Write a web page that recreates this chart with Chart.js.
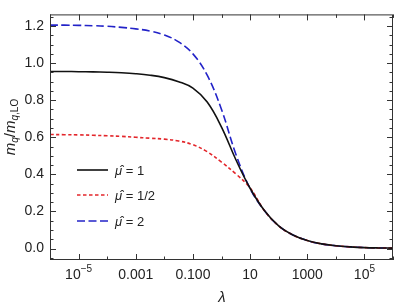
<!DOCTYPE html>
<html>
<head>
<meta charset="utf-8">
<script src="https://cdn.jsdelivr.net/npm/chart.js@4.4.1/dist/chart.umd.min.js"></script>
<style>
  html, body { margin: 0; padding: 0; background: #fff; }
  #wrap { width: 395px; height: 306px; }
</style>
</head>
<body>
<div id="wrap"><canvas id="myChart" width="395" height="306"></canvas></div>
<script>
// lambda values, half decades from 1e-6 to 1e6
const lambda = [1e-6, 3.16e-6, 1e-5, 3.16e-5, 1e-4, 3.16e-4, 1e-3, 3.16e-3, 1e-2, 3.16e-2, 0.1, 0.316,
  1, 3.16, 10, 31.6, 100, 316, 1000, 3160, 1e4, 3.16e4, 1e5, 3.16e5, 1e6];

const muOne = [0.955, 0.955, 0.954, 0.953, 0.951, 0.948, 0.943, 0.935, 0.922, 0.900, 0.865, 0.79,
  0.655, 0.48, 0.325, 0.205, 0.122, 0.073, 0.043, 0.025, 0.015, 0.009, 0.005, 0.003, 0.002];
const muHalf = [0.615, 0.614, 0.613, 0.611, 0.608, 0.605, 0.60, 0.595, 0.59, 0.58, 0.56, 0.522,
  0.466, 0.403, 0.327, 0.205, 0.122, 0.073, 0.043, 0.025, 0.015, 0.009, 0.005, 0.003, 0.002];
const muTwo = [1.205, 1.205, 1.204, 1.202, 1.199, 1.193, 1.185, 1.173, 1.152, 1.115, 1.05, 0.935,
  0.75, 0.51, 0.324, 0.205, 0.122, 0.073, 0.043, 0.025, 0.015, 0.009, 0.005, 0.003, 0.002];

const seriesLabels = ['\u03BC\u0302 = 1', '\u03BC\u0302 = 1/2', '\u03BC\u0302 = 2'];
const xMajor = [1e-5, 1e-3, 1e-1, 10, 1000, 1e5];
const xMinor = [1e-6, 1e-4, 1e-2, 1, 100, 1e4, 1e6];
// [base, superscript]
const xTickText = [['10', '\u22125'], ['0.001', ''], ['0.100', ''], ['10', ''], ['1000', ''], ['10', '5']];
const yTicks = [0, 0.2, 0.4, 0.6, 0.8, 1.0, 1.2];

function pts(arr) {
  return lambda.map((l, i) => ({ x: l, y: arr[i] }));
}

const FONT = '"Liberation Sans", Arial, sans-serif';

let frame = {
  id: 'frame',
  afterDraw(chart) {
    let c = chart.ctx, a = chart.chartArea;
    let xs = chart.scales.x, ys = chart.scales.y;
    c.save();
    c.strokeStyle = '#333';
    c.lineWidth = 1;
    c.strokeRect(a.left + 0.5, a.top + 0.5, a.right - a.left - 1, a.bottom - a.top - 1);
    c.beginPath();
    xMajor.forEach(v => {
      let p = Math.round(xs.getPixelForValue(v)) + 0.5;
      c.moveTo(p, a.bottom); c.lineTo(p, a.bottom - 6);
      c.moveTo(p, a.top); c.lineTo(p, a.top + 6);
    });
    xMinor.forEach(v => {
      let p = Math.round(xs.getPixelForValue(v)) + 0.5;
      c.moveTo(p, a.bottom); c.lineTo(p, a.bottom - 3.5);
      c.moveTo(p, a.top); c.lineTo(p, a.top + 3.5);
    });
    for (let k = -1; k <= 25; k++) {
      let v = k * 0.05;
      let p = Math.round(ys.getPixelForValue(v)) + 0.5;
      if (p < a.top || p > a.bottom) continue;
      let len = (k % 4 === 0) ? 6 : 3.5;
      c.moveTo(a.left, p); c.lineTo(a.left + len, p);
      c.moveTo(a.right, p); c.lineTo(a.right - len, p);
    }
    c.stroke();

    // x tick labels with superscripts
    c.fillStyle = '#222';
    c.textBaseline = 'alphabetic';
    c.textAlign = 'left';
    xMajor.forEach((v, i) => {
      let p = xs.getPixelForValue(v);
      let base = xTickText[i][0], sup = xTickText[i][1];
      c.font = '14px ' + FONT;
      let wb = c.measureText(base).width;
      c.font = '10px ' + FONT;
      let ws = sup ? c.measureText(sup).width : 0;
      let x0 = p - (wb + ws) / 2;
      c.font = '14px ' + FONT;
      c.fillText(base, x0, a.bottom + 19);
      if (sup) {
        c.font = '10px ' + FONT;
        c.fillText(sup, x0 + wb, a.bottom + 12);
      }
    });

    // legend
    let rows = [170, 195, 221];
    chart.data.datasets.forEach((ds, i) => {
      c.beginPath();
      c.strokeStyle = ds.borderColor;
      c.lineWidth = ds.borderWidth;
      c.setLineDash(ds.borderDash || []);
      c.moveTo(77, rows[i]); c.lineTo(108, rows[i]);
      c.stroke();
    });
    c.setLineDash([]);
    c.fillStyle = '#222';
    c.textBaseline = 'middle';
    rows.forEach((r, i) => {
      c.font = 'italic 13px ' + FONT;
      c.fillText('\u03BC\u0302', 115, r + 1);
      let w = c.measureText('\u03BC\u0302').width;
      c.font = '13px ' + FONT;
      c.fillText(seriesLabels[i].slice(2), 115 + w, r + 1);
    });

    // axis titles
    c.font = 'italic 15px ' + FONT;
    c.textAlign = 'center';
    c.textBaseline = 'alphabetic';
    c.fillText('\u03BB', 222, 302);

    c.translate(15, 127);
    c.rotate(-Math.PI / 2);
    let parts = [
      ['m', 'italic 15px ' + FONT, 0],
      ['q', 'italic 10px ' + FONT, 3],
      ['/', '15px ' + FONT, 0],
      ['m', 'italic 15px ' + FONT, 0],
      ['q', 'italic 10px ' + FONT, 3],
      [',LO', '10px ' + FONT, 3]
    ];
    let total = 0;
    parts.forEach(p => { c.font = p[1]; total += c.measureText(p[0]).width; });
    let x0 = -total / 2;
    c.textAlign = 'left';
    parts.forEach(p => {
      c.font = p[1];
      c.fillText(p[0], x0, p[2]);
      x0 += c.measureText(p[0]).width;
    });
    c.restore();
  }
};

let ctx = document.getElementById('myChart');
let myChart = new Chart(ctx, {
  type: 'line',
  data: {
    datasets: [{
      label: seriesLabels[0],
      data: pts(muOne),
      borderColor: '#111',
      borderWidth: 1.6,
    }, {
      label: seriesLabels[1],
      data: pts(muHalf),
      borderColor: '#e3262b',
      borderWidth: 1.6,
      borderDash: [3.5, 2.5],
    }, {
      label: seriesLabels[2],
      data: pts(muTwo),
      borderColor: '#2323c8',
      borderWidth: 1.6,
      borderDash: [8, 3.5],
    }]
  },
  options: {
    responsive: false,
    animation: false,
    layout: { padding: { left: 0, top: 3, right: 2, bottom: 0 } },
    elements: { point: { radius: 0 }, line: { tension: 0.4, fill: false } },
    plugins: { legend: { display: false }, tooltip: { enabled: false } },
    scales: {
      x: {
        type: 'logarithmic',
        min: 1e-6,
        max: 1e6,
        grid: { display: false, drawTicks: false },
        border: { display: false },
        afterBuildTicks: s => { s.ticks = xMajor.map(v => ({ value: v })); },
        afterFit: s => { s.height = 46; },
        ticks: { display: false }
      },
      y: {
        min: -0.062,
        max: 1.263,
        grid: { display: false, drawTicks: false },
        border: { display: false },
        afterBuildTicks: s => { s.ticks = yTicks.map(v => ({ value: v })); },
        afterFit: s => { s.width = 50; },
        ticks: {
          padding: 6,
          color: '#222',
          font: { family: 'Liberation Sans', size: 14 },
          callback: v => v.toFixed(1)
        }
      }
    }
  },
  plugins: [frame]
});
</script>
</body>
</html>
